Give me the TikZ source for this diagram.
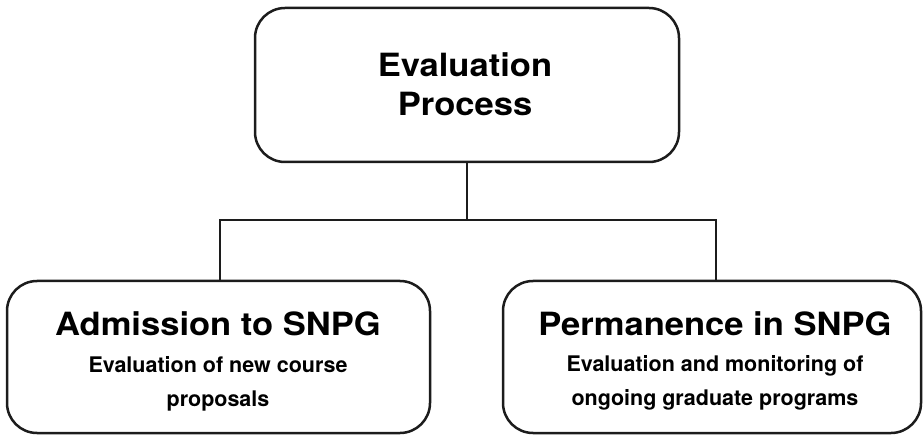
\documentclass[tikz,border=0pt]{standalone}
\usepackage{fontspec}
\setmainfont{TeX Gyre Heros}
\newfontfamily\wideheros{TeX Gyre Heros}[FakeStretch=1.08]
\definecolor{linec}{HTML}{1C1C1C}
\begin{document}
\begin{tikzpicture}[x=1pt,y=-1pt,
  box/.style={draw=linec, line width=2.5pt, rounded corners=30pt, inner sep=0pt},
  link/.style={draw=linec, line width=2.2pt},
  title/.style={font=\wideheros\bfseries\fontsize{32}{39}\selectfont, align=center, inner sep=0pt},
  sub/.style={font=\bfseries\fontsize{21.5}{34}\selectfont, align=center, inner sep=0pt}]
\useasboundingbox (0,0) rectangle (923,435);
\node[box, minimum width=424pt, minimum height=154pt] (top) at (467,85) {};
\node[box, minimum width=423pt, minimum height=152pt] (left) at (218.5,357) {};
\node[box, minimum width=418pt, minimum height=152pt] (right) at (712,357) {};
\coordinate (jl) at (220,220);
\coordinate (jr) at (716,220);
\draw[link] (top.south) -- (top.south |- jl);
\draw[link] (jl |- left.north) -- (jl) -- (jr) -- (jr |- right.north);
\node[title, anchor=north] (toptext) at (465,52) {Evaluation\\Process};
\node[title, anchor=base] (lt) at (218,335) {Admission to SNPG};
\node[sub, anchor=north] (ls) at (218,356) {Evaluation of new course\\proposals};
\node[title, anchor=base] (rt) at (715,335) {Permanence in SNPG};
\node[sub, anchor=north] (rs) at (715,355) {Evaluation and monitoring of\\ongoing graduate programs};
\end{tikzpicture}
\end{document}
